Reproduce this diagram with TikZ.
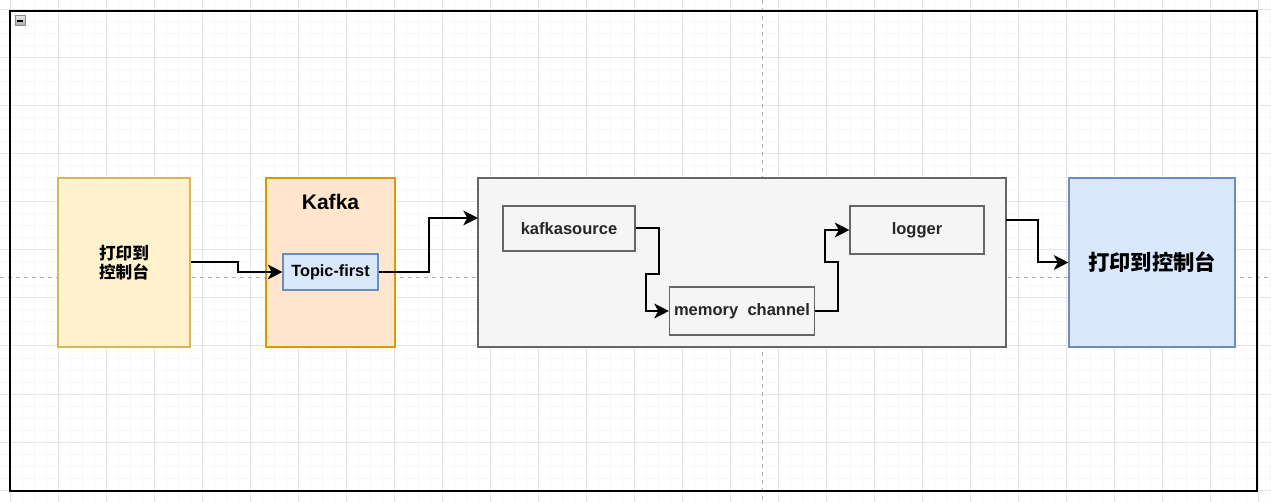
\documentclass[tikz,border=0pt]{standalone}
\usepackage{fontspec}
\setmainfont{Liberation Sans}
\newfontfamily\cjk{Noto Sans CJK SC}
\usetikzlibrary{arrows.meta,positioning}

\definecolor{ylwfill}{HTML}{FFF2CC}
\definecolor{ylwline}{HTML}{D6B656}
\definecolor{orgfill}{HTML}{FFE6CC}
\definecolor{orgline}{HTML}{D79B00}
\definecolor{bluefill}{HTML}{DAE8FC}
\definecolor{blueline}{HTML}{6C8EBF}
\definecolor{grayfill}{HTML}{F5F5F5}
\definecolor{grayline}{HTML}{666666}

\tikzset{
  gridminor/.style={draw=black!3, line width=0.75pt},
  gridmajor/.style={draw=black!10, line width=0.75pt},
  guide/.style={draw=black!30, dashed, line width=0.75pt},
  box/.style={draw, line width=0.8pt, inner sep=0pt, align=center, font=\bfseries},
  ylwbox/.style={box, fill=ylwfill, draw=ylwline},
  orgbox/.style={box, fill=orgfill, draw=orgline},
  bluebox/.style={box, fill=bluefill, draw=blueline},
  graybox/.style={box, fill=grayfill, draw=grayline},
  conn/.style={draw=black, line width=1.5pt, -{Stealth[length=11pt,width=11pt,inset=3pt]}},
}

\begin{document}
\begin{tikzpicture}[x=0.75pt,y=-0.75pt]
  \useasboundingbox (0,0) rectangle (1271,502);
  \fill[white] (0,0) rectangle (1271,502);

  % background grid
  \foreach \gx in {-2,10,...,1270} \draw[gridminor] (\gx,0) -- (\gx,502);
  \foreach \gy in {-2,10,...,502} \draw[gridminor] (0,\gy) -- (1271,\gy);
  \foreach \gx in {10,58,...,1270} \draw[gridmajor] (\gx,0) -- (\gx,502);
  \foreach \gy in {10,58,...,502} \draw[gridmajor] (0,\gy) -- (1271,\gy);
  \draw[guide] (762,0) -- (762,502);
  \draw[guide] (0,278) -- (1271,278);

  % outer frame and collapse icon
  \draw[line width=0.85pt] (10,11) rectangle (1257,491);
  \draw[draw=black!45, top color=black!10, bottom color=black!35, line width=0.75pt] (15,16) rectangle (25,26);
  \draw[line width=1.2pt] (17,21) -- (23,21);

  % nodes
  \node[ylwbox, minimum width=99pt, minimum height=126.75pt, font=\cjk\bfseries\fontsize{12.5}{14.5}\selectfont]
    at (124,262.5) (print1) {打印到\\控制台};
  \node[orgbox, minimum width=96.75pt, minimum height=126.75pt] at (330.5,262.5) (kafka) {};
  \node[font=\bfseries\fontsize{15.8}{18}\selectfont] at (330.5,202) (kafkalbl) {Kafka};
  \node[bluebox, minimum width=71.25pt, minimum height=27pt, font=\bfseries\fontsize{12.2}{14}\selectfont]
    at (330.5,272) (topic) {Topic-first};
  \node[graybox, minimum width=396pt, minimum height=126.75pt] at (742,262.5) (flume) {};
  \node[graybox, minimum width=99pt, minimum height=33.75pt, font=\bfseries\fontsize{12.4}{14}\selectfont, text=black!85]
    at (569,228.5) (src) {kafkasource};
  \node[graybox, minimum width=108.75pt, minimum height=36pt, font=\bfseries\fontsize{12.4}{14}\selectfont, text=black!85]
    at (742,311) (mem) {memory\ \ channel};
  \node[graybox, minimum width=100.5pt, minimum height=36pt, font=\bfseries\fontsize{12.4}{14}\selectfont, text=black!85]
    at (917,230) (sink) {logger};
  \node[bluebox, minimum width=124.5pt, minimum height=126.75pt, font=\cjk\bfseries\fontsize{16}{18}\selectfont]
    at (1152,262.5) (print2) {打印到控制台};

  \coordinate (flumein) at (478,218);
  \coordinate (flumeout) at (1006,220);

  % connectors
  \draw[conn] (print1.east) -- ++(47,0) |- (topic.west);
  \draw[conn] (topic.east) -- ++(50,0) |- (flumein);
  \draw[conn] (src.east) -- ++(23,0) -- ++(0,46) -- ++(-13,0) |- (mem.west);
  \draw[conn] (mem.east) -- ++(23,0) -- ++(0,-49) -- ++(-13,0) |- (sink.west);
  \draw[conn] (flumeout) -- ++(32,0) |- (print2.west);
\end{tikzpicture}
\end{document}
